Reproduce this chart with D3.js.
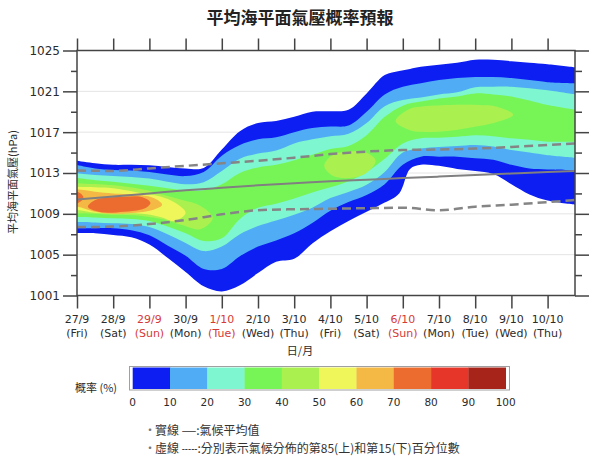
<!DOCTYPE html>
<html><head><meta charset="utf-8">
<script src="https://cdn.jsdelivr.net/npm/d3@7"></script>
<style>
body{margin:0;background:#fff;}
svg{display:block;font-family:"DejaVu Sans",sans-serif;}
</style>
</head><body>
<svg id="c" width="600" height="457"></svg>
<script>
// ---------- data ----------
const dates = ["27/9","28/9","29/9","30/9","1/10","2/10","3/10","4/10","5/10","6/10","7/10","8/10","9/10","10/10"];
const weekdays = ["(Fri)","(Sat)","(Sun)","(Mon)","(Tue)","(Wed)","(Thu)","(Fri)","(Sat)","(Sun)","(Mon)","(Tue)","(Wed)","(Thu)"];
const holidays = [false,false,true,false,true,false,false,false,false,true,false,false,false,false];
const yMajor = [1001,1005,1009,1013,1017,1021,1025];
const yMinor = [1003,1007,1011,1015,1019,1023];
const probLevels = [0,10,20,30,40,50,60,70,80,90,100];
const probColors = ["#0c1ef2","#50acf5","#7ef6cf","#78f556","#aaf150","#eef65a","#f4b845","#ec6c30","#e63629","#a6241a"];

// climatology lines (day index from 27/9)
const lineDays = [0,1,2,3,4,5,6,7,8,9,10,11,12,13,13.75];
const climMean = [1010.4,1010.7,1011.0,1011.3,1011.55,1011.8,1012.0,1012.2,1012.35,1012.5,1012.65,1012.8,1012.95,1013.1,1013.2];
const clim85 = [1013.25,1013.2,1013.45,1013.7,1013.95,1014.2,1014.5,1014.85,1015.1,1015.25,1015.3,1015.4,1015.55,1015.75,1015.9];
const clim15 = [1007.7,1007.75,1008.0,1008.4,1008.95,1009.35,1009.45,1009.5,1009.55,1009.6,1009.35,1009.7,1009.9,1010.15,1010.35];

// probability bands: [day, lower hPa, upper hPa]
const band0 = [[0,1007.1,1014.2],[0.5,1007.1,1013.95],[1,1006.93,1013.8],[1.5,1006.7,1013.8],[2,1006.0,1013.75],[2.5,1004.7,1013.6],[3,1003.3,1013.45],[3.5,1001.9,1013.5],[4,1001.4,1015.3],[4.5,1002.0,1017.1],[5,1003.2,1017.9],[5.5,1004.3,1018.1],[6,1004.6,1018.5],[6.5,1006.1,1019.0],[7,1007.3,1019.05],[7.5,1008.3,1019.2],[8,1009.2,1020.8],[8.5,1010.1,1022.6],[8.9,1011.0,1023.0],[9.2,1013.4,1023.2],[9.5,1013.8,1023.4],[10,1013.7,1023.6],[10.5,1013.4,1023.8],[11,1013.2,1024.1],[11.5,1012.9,1024.1],[12,1011.9,1023.95],[12.5,1010.9,1023.8],[13,1010.3,1023.65],[13.76,1009.9,1023.35]];
const band10 = [[0,1007.6,1013.78],[0.5,1007.6,1013.45],[1,1007.6,1013.3],[1.5,1007.4,1013.25],[2,1006.9,1013.1],[2.5,1005.9,1012.85],[3,1004.9,1012.7],[3.5,1003.6,1013.1],[4,1003.6,1014.7],[4.5,1004.85,1015.75],[5,1005.8,1016.3],[5.5,1006.4,1016.5],[6,1007.1,1017.0],[6.5,1008.1,1017.4],[7,1009.3,1017.55],[7.5,1010.15,1017.65],[8,1010.85,1019.0],[8.5,1011.9,1020.7],[9,1013.8,1021.45],[9.5,1014.6,1021.8],[10,1014.6,1022.1],[10.5,1014.6,1022.3],[11,1014.45,1022.4],[11.5,1014.3,1022.4],[12,1013.8,1022.3],[12.5,1013.45,1022.1],[13,1013.35,1021.9],[13.76,1013.3,1021.8]];
const band20 = [[0,1008.2,1012.97],[0.5,1008.15,1012.8],[1,1008.07,1012.7],[1.5,1008.0,1012.6],[2,1007.7,1012.45],[2.5,1007.0,1012.15],[3,1006.15,1011.9],[3.5,1005.35,1012.1],[4,1005.8,1013.2],[4.5,1007.0,1014.4],[5,1007.8,1014.9],[5.5,1008.35,1015.2],[6,1008.9,1015.9],[6.5,1009.6,1016.3],[7,1010.55,1016.6],[7.5,1011.15,1016.85],[8,1011.85,1017.9],[8.5,1013.1,1019.55],[9,1015.0,1020.15],[9.5,1015.4,1020.4],[10,1015.55,1020.7],[10.5,1015.65,1020.9],[11,1015.75,1021.4],[11.5,1015.6,1021.45],[12,1015.25,1021.45],[12.5,1015.0,1021.3],[13,1014.75,1021.1],[13.76,1014.5,1020.7]];
const band30 = [[0,1008.7,1012.5],[0.5,1008.65,1012.3],[1,1008.56,1012.15],[1.5,1008.5,1011.95],[2,1008.3,1011.75],[2.5,1007.75,1011.5],[3,1007.1,1011.3],[3.5,1006.35,1011.3],[4,1006.6,1011.9],[4.5,1008.5,1013.0],[5,1009.6,1013.55],[5.5,1010.0,1013.8],[6,1010.5,1014.25],[6.5,1011.1,1014.8],[7,1011.6,1015.35],[7.5,1012.2,1015.65],[8,1013.1,1016.7],[8.5,1014.4,1018.5],[9,1015.9,1019.6],[9.5,1016.4,1020.0],[10,1016.45,1020.3],[10.5,1016.55,1020.5],[11,1016.7,1020.8],[11.5,1016.6,1020.7],[12,1016.4,1020.5],[12.5,1016.25,1020.1],[13,1016.07,1019.65],[13.76,1016.07,1019.2]];
// isolated blobs: [day, lower, upper] or tip [day, hPa]
const blob40a = [[-0.3,1009.0,1012.1],[0,1009.05,1012.0],[1,1008.9,1011.8],[1.8,1008.8,1011.4],[2.4,1008.45,1010.85],[2.9,1007.9,1010.35],[3.4,1007.5,1009.8],[3.75,1008.6]];
const blob40b = [[6.83,1013.7],[7.05,1012.75,1014.75],[7.5,1012.5,1015.1],[7.95,1012.9,1015.05],[8.25,1014.2]];
const blob40c = [[8.8,1018.1],[9.2,1017.2,1019.3],[9.5,1017.04,1019.5],[10.3,1017.15,1019.66],[11.1,1017.6,1019.66],[11.6,1018.0,1019.5],[12.05,1018.7]];
const blob50 = [[-0.3,1009.35,1011.7],[0,1009.37,1011.65],[0.5,1009.1,1011.6],[1,1009.05,1011.5],[1.8,1009.0,1011.0],[2.3,1008.7,1010.7],[2.7,1008.3,1010.1],[3.0,1009.1]];
const blob60 = [[-0.3,1009.6,1011.45],[0,1009.7,1011.4],[0.5,1009.2,1011.17],[1,1009.0,1011.0],[1.75,1009.15,1010.85],[2.15,1009.45,1010.5],[2.35,1009.9]];
const blob70a = [[-0.3,1010.0,1011.2],[0,1010.03,1011.17],[0.1,1010.2,1011.0],[0.18,1010.6]];
const blob70b = [[0.3,1009.7],[0.5,1009.3,1010.35],[0.85,1009.1,1010.6],[1.3,1009.2,1010.68],[1.75,1009.4,1010.68],[1.95,1009.7,1010.4],[2.03,1010.05]];

// ---------- drawing ----------
const svg = d3.select("#c");
const X0 = 77, X1 = 575, YT = 50.5, YB = 295.5;
const x = d3.scaleLinear().domain([0, 13.757]).range([X0, X1]);
const y = d3.scaleLinear().domain([1001, 1025]).range([YB, YT]);
const cjk = '"Noto Sans CJK TC","Noto Sans CJK SC",sans-serif';
const txt = "#2b2b2b";

svg.append("defs").append("clipPath").attr("id","pc")
  .append("rect").attr("x",X0).attr("y",YT).attr("width",X1-X0).attr("height",YB-YT);

// title
svg.append("text").attr("x",300).attr("y",24).attr("text-anchor","middle")
  .style("font-family",cjk).style("font-weight","bold").style("font-size","17px").attr("fill","#222")
  .text("平均海平面氣壓概率預報");

// gridlines
svg.append("g").selectAll("line").data(yMajor.filter(v=>v>1001&&v<1025)).join("line")
  .attr("x1",X0).attr("x2",X1).attr("y1",d=>y(d)).attr("y2",d=>y(d))
  .attr("stroke","#e4e4e4").attr("stroke-width",1);

const plot = svg.append("g").attr("clip-path","url(#pc)");
const area = d3.area().x(d=>x(d[0])).y0(d=>y(d[1])).y1(d=>y(d[2])).curve(d3.curveCatmullRom.alpha(0.5));
[[band0,0],[band10,1],[band20,2],[band30,3]].forEach(([b,i])=>{
  plot.append("path").attr("d",area(b)).attr("fill",probColors[i]);
});
const closed = d3.line().x(d=>x(d[0])).y(d=>y(d[1])).curve(d3.curveCatmullRomClosed.alpha(0.5));
function blobPts(b){
  const top = b.map(e=>[e[0], e.length===2 ? e[1] : e[2]]);
  const bot = b.filter(e=>e.length===3).map(e=>[e[0],e[1]]).reverse();
  return top.concat(bot);
}
[[blob40a,4],[blob40b,4],[blob40c,4],[blob50,5],[blob60,6],[blob70a,7],[blob70b,7]].forEach(([b,i])=>{
  plot.append("path").attr("d",closed(blobPts(b))).attr("fill",probColors[i]);
});

// climatology lines
const ln = d3.line().x((d,i)=>x(lineDays[i])).y(d=>y(d)).curve(d3.curveMonotoneX);
plot.append("path").attr("d",ln(climMean)).attr("fill","none").attr("stroke","#808080").attr("stroke-width",2);
[clim85,clim15].forEach(s=>{
  plot.append("path").attr("d",ln(s)).attr("fill","none").attr("stroke","#858585")
    .attr("stroke-width",2.5).attr("stroke-dasharray","9,5");
});

// frame
svg.append("rect").attr("x",X0).attr("y",YT).attr("width",X1-X0).attr("height",YB-YT)
  .attr("fill","none").attr("stroke","#444").attr("stroke-width",1.5);

// axes
function styleAxis(g){ g.select(".domain").remove(); g.selectAll(".tick line").attr("stroke","#444").attr("stroke-width",1.5); }
svg.append("g").attr("transform",`translate(${X0},0)`)
  .call(d3.axisLeft(y).tickValues(yMajor).tickSize(14).tickPadding(3).tickFormat(d3.format("d")))
  .call(styleAxis)
  .call(g=>g.selectAll("text").attr("fill",txt).style("font-size","12px").style("font-family","DejaVu Sans"));
svg.append("g").attr("transform",`translate(${X0},0)`)
  .call(d3.axisLeft(y).tickValues(yMinor).tickSize(6).tickFormat(""))
  .call(styleAxis);
svg.append("g").attr("transform",`translate(${X1},0)`)
  .call(d3.axisRight(y).tickValues(yMajor).tickSize(14).tickFormat(""))
  .call(styleAxis);
svg.append("g").attr("transform",`translate(${X1},0)`)
  .call(d3.axisRight(y).tickValues(yMinor).tickSize(7).tickFormat(""))
  .call(styleAxis);
const dayIdx = d3.range(dates.length);
svg.append("g").attr("transform",`translate(0,${YB})`)
  .call(d3.axisBottom(x).tickValues(dayIdx).tickSize(13).tickFormat(""))
  .call(styleAxis);
svg.append("g").attr("transform",`translate(0,${YT})`)
  .call(d3.axisTop(x).tickValues(dayIdx).tickSize(12).tickFormat(""))
  .call(styleAxis);

// x labels
const xl = svg.append("g").style("font-size","11px");
xl.selectAll("text.d").data(dayIdx).join("text").attr("class","d")
  .attr("x",d=>x(d)).attr("y",323).attr("text-anchor","middle")
  .attr("fill",d=>holidays[d]?"#d63a36":txt).text(d=>dates[d]);
xl.selectAll("text.w").data(dayIdx).join("text").attr("class","w")
  .attr("x",d=>x(d)).attr("y",337).attr("text-anchor","middle")
  .attr("fill",d=>holidays[d]?"#d63a36":txt).text(d=>weekdays[d]);
svg.append("text").attr("x",300).attr("y",355).attr("text-anchor","middle")
  .style("font-family",cjk).style("font-size","11px").attr("fill",txt).text("日/月");

// y title
svg.append("text").attr("transform","translate(17,182) rotate(-90)").attr("text-anchor","middle")
  .style("font-family",cjk).style("font-size","11px").attr("fill",txt).text("平均海平面氣壓(hPa)");

// colorbar
const cb = d3.scaleLinear().domain([0,100]).range([132.7,505.7]);
svg.append("rect").attr("x",129.5).attr("y",366.5).attr("width",380).attr("height",23.5)
  .attr("fill","#fff").attr("stroke","#a0a0a0").attr("stroke-width",1);
svg.append("g").selectAll("rect").data(probColors).join("rect")
  .attr("x",(d,i)=>cb(probLevels[i])).attr("width",(d,i)=>cb(probLevels[i+1])-cb(probLevels[i])+0.3)
  .attr("y",367.5).attr("height",21.5).attr("fill",d=>d);
svg.append("g").selectAll("text").data(probLevels).join("text")
  .attr("x",d=>cb(d)).attr("y",406).attr("text-anchor","middle")
  .style("font-size","10.5px").attr("fill",txt).text(d=>d);
svg.append("text").attr("x",117).attr("y",392).attr("text-anchor","end")
  .style("font-family",cjk).style("font-size","11px").attr("fill",txt).text("概率 (%)");

// bottom legend
const lg = svg.append("g").style("font-family",cjk).style("font-size","12px").attr("fill","#333");
const rows = [
  {y:435, name:"實線 ", mark:"——", desc:":氣候平均值"},
  {y:453, name:"虛線 ", mark:"-----", desc:":分別表示氣候分佈的第85(上)和第15(下)百分位數"}
];
rows.forEach(r=>{
  lg.append("text").attr("x",144).attr("y",r.y).attr("fill","#777").text("·");
  const t = lg.append("text").attr("x",155).attr("y",r.y);
  t.append("tspan").text(r.name);
  t.append("tspan").style("font-size","8.5px").style("font-weight","bold").attr("dy",-1).text(r.mark);
  t.append("tspan").attr("dy",1).text(r.desc);
});
</script>
</body></html>
